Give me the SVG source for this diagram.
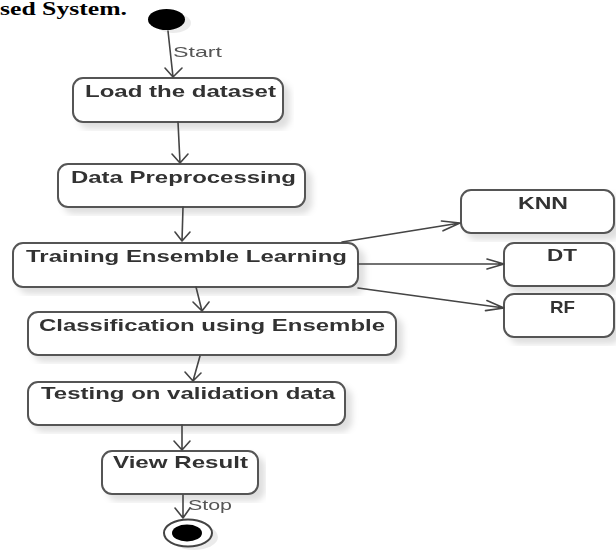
<svg xmlns="http://www.w3.org/2000/svg" width="616" height="552" viewBox="0 0 616 552">
  <defs>
    <filter id="shadow" x="-10%" y="-20%" width="130%" height="160%">
      <feDropShadow dx="6" dy="6" stdDeviation="3" flood-color="#000" flood-opacity="0.13"/>
    </filter>
    <filter id="soft" x="-5%" y="-20%" width="110%" height="140%">
      <feGaussianBlur stdDeviation="0.35"/>
    </filter>
  </defs>
  <style>
    .box { fill: #fff; stroke: #555; stroke-width: 2; filter: url(#shadow); }
    .lbl { font-family: "Liberation Sans", Arial, sans-serif; font-weight: bold; font-size: 17px; fill: #333; }
    .edge-lbl { font-family: "Liberation Sans", Arial, sans-serif; font-size: 15px; fill: #555; }
    .wire { fill: none; stroke: #444; stroke-width: 1.6; stroke-linecap: round; stroke-linejoin: round; }
    .title { font-family: "Liberation Serif", "Times New Roman", serif; font-weight: bold; font-size: 18px; fill: #000; }
  </style>

  <rect width="616" height="552" fill="#fff"/>

  <text class="title" x="0" y="15" textLength="127" lengthAdjust="spacingAndGlyphs">sed System.</text>

  <!-- initial node -->
  <g id="start">
    <ellipse cx="173" cy="23" rx="18" ry="10" fill="#000" opacity="0.08"/>
    <ellipse cx="166.5" cy="19.5" rx="18.5" ry="10.5" fill="#000"/>
  </g>

  <g id="load-dataset" filter="url(#soft)">
    <rect class="box" x="73" y="78" width="210" height="44" rx="10" ry="10"/>
    <text class="lbl" x="85" y="97" textLength="191" lengthAdjust="spacingAndGlyphs">Load the dataset</text>
  </g>

  <g id="preprocessing" filter="url(#soft)">
    <rect class="box" x="58" y="164" width="247" height="43" rx="10" ry="10"/>
    <text class="lbl" x="71" y="183" textLength="225" lengthAdjust="spacingAndGlyphs">Data Preprocessing</text>
  </g>

  <g id="training" filter="url(#soft)">
    <rect class="box" x="13" y="243" width="345" height="44" rx="10" ry="10"/>
    <text class="lbl" x="26" y="262" textLength="321" lengthAdjust="spacingAndGlyphs">Training Ensemble Learning</text>
  </g>

  <g id="classification" filter="url(#soft)">
    <rect class="box" x="28" y="312" width="368" height="43" rx="10" ry="10"/>
    <text class="lbl" x="39" y="331" textLength="346" lengthAdjust="spacingAndGlyphs">Classification using Ensemble</text>
  </g>

  <g id="testing" filter="url(#soft)">
    <rect class="box" x="28" y="382" width="317" height="43" rx="10" ry="10"/>
    <text class="lbl" x="41" y="399" textLength="294" lengthAdjust="spacingAndGlyphs">Testing on validation data</text>
  </g>

  <g id="view-result" filter="url(#soft)">
    <rect class="box" x="102" y="451" width="156" height="43" rx="10" ry="10"/>
    <text class="lbl" x="113" y="468" textLength="135" lengthAdjust="spacingAndGlyphs">View Result</text>
  </g>

  <g id="knn" filter="url(#soft)">
    <rect class="box" x="461" y="190" width="153" height="43" rx="10" ry="10"/>
    <text class="lbl" x="518" y="209" textLength="50" lengthAdjust="spacingAndGlyphs">KNN</text>
  </g>

  <g id="dt" filter="url(#soft)">
    <rect class="box" x="504" y="243" width="110" height="43" rx="10" ry="10"/>
    <text class="lbl" x="547" y="261" textLength="30" lengthAdjust="spacingAndGlyphs">DT</text>
  </g>

  <g id="rf" filter="url(#soft)">
    <rect class="box" x="504" y="294" width="110" height="43" rx="10" ry="10"/>
    <text class="lbl" x="550" y="313" textLength="25" lengthAdjust="spacingAndGlyphs">RF</text>
  </g>

  <!-- final node -->
  <g id="stop">
    <ellipse cx="194" cy="537" rx="24" ry="13" fill="#000" opacity="0.08"/>
    <ellipse cx="188" cy="533" rx="24" ry="13.5" fill="#fff" stroke="#444" stroke-width="2"/>
    <ellipse cx="187" cy="533" rx="15" ry="8.5" fill="#000"/>
  </g>

  <!-- transitions: shaft + open arrowhead -->
  <g id="connectors" filter="url(#soft)">
    <path class="wire" d="M168,31 L173,77 M165,68 L173,77 L182,68"/>
    <path class="wire" d="M178,122 L180,163 M172,154 L180,163 L188,154"/>
    <path class="wire" d="M183,207 L182,241 M175,232 L182,241 L190,232"/>
    <path class="wire" d="M196,287 L202,311 M193,302 L202,311 L209,302"/>
    <path class="wire" d="M200,356 L193,381 M185,372 L193,381 L201,373"/>
    <path class="wire" d="M182,425 L182,450 M174,441 L182,450 L190,441"/>
    <path class="wire" d="M183,495 L183,518 M175,508 L183,518 L190,508"/>
    <path class="wire" d="M342,242 L460,223 M441.4,221 L460,223 L443,230.8"/>
    <path class="wire" d="M358,264 L504,264 M487,259 L504,264 L487,269"/>
    <path class="wire" d="M358,288 L504,308 M486.9,300.6 L504,308 L485.5,310.6"/>
    <text class="edge-lbl" x="173" y="57" textLength="49" lengthAdjust="spacingAndGlyphs">Start</text>
    <text class="edge-lbl" x="188" y="510" textLength="44" lengthAdjust="spacingAndGlyphs">Stop</text>
  </g>
</svg>
